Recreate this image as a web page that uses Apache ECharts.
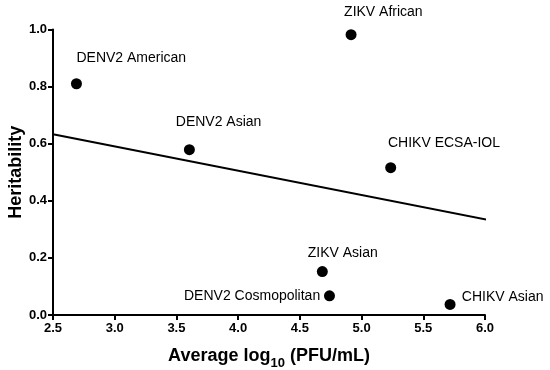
<!DOCTYPE html>
<html>
<head>
<meta charset="utf-8">
<script src="https://cdn.jsdelivr.net/npm/echarts@6/dist/echarts.min.js"></script>
<style>html,body{margin:0;padding:0;background:#fff}#c{width:550px;height:370px}</style>
</head>
<body>
<div id="c"></div>
<script>
// Data
const strains = ["DENV2 American", "ZIKV African", "DENV2 Asian", "CHIKV ECSA-IOL", "ZIKV Asian", "DENV2 Cosmopolitan", "CHIKV Asian"];
const avgLogPFU = [2.69, 4.915, 3.605, 5.236, 4.682, 4.74, 5.717];
const heritability = [0.81, 0.982, 0.579, 0.516, 0.152, 0.067, 0.037];
const regressionX = [2.5, 6.1];
const regressionY = [0.633, 0.327];
const xTicks = [2.5, 3.0, 3.5, 4.0, 4.5, 5.0, 5.5, 6.0];
const yTicks = [0.0, 0.2, 0.4, 0.6, 0.8, 1.0];

// Label placement (style, not data)
const labelPlacement = [
  {align: 'left', offset: [0, -26]},
  {align: 'left', offset: [-7, -22.5]},
  {align: 'left', offset: [-13.6, -27.6]},
  {align: 'left', offset: [-2.7, -25]},
  {align: 'left', offset: [-14.6, -18.4]},
  {align: 'right', offset: [-9.3, 0.5]},
  {align: 'left', offset: [11.7, -7.6]}
];

const FONT = '"Liberation Sans", Arial, Helvetica, sans-serif';

const scatterData = strains.map((n, i) => ({
  name: n,
  value: [avgLogPFU[i], heritability[i]],
  label: {
    show: true,
    position: 'inside',
    align: labelPlacement[i].align,
    verticalAlign: 'middle',
    offset: labelPlacement[i].offset,
    formatter: n,
    color: '#000',
    fontSize: 14,
    fontFamily: FONT
  }
}));

const chart = echarts.init(document.getElementById('c'));
chart.setOption({
  animation: false,
  backgroundColor: '#fff',
  grid: {left: 53, right: 65, top: 29.5, bottom: 55, containLabel: false, outerBoundsMode: 'none'},
  xAxis: {
    type: 'value',
    min: xTicks[0], max: xTicks[xTicks.length - 1], interval: 0.5,
    splitLine: {show: false},
    axisLine: {lineStyle: {color: '#000', width: 2}},
    axisTick: {length: 5, lineStyle: {color: '#000', width: 2}},
    axisLabel: {margin: 7, color: '#000', fontSize: 13, fontWeight: 'bold', fontFamily: FONT,
      formatter: v => v.toFixed(1)},
    name: '{a|Average log}{s|10}{a| (PFU/mL)}',
    nameLocation: 'middle',
    nameGap: 28,
    nameTextStyle: {
      rich: {
        a: {fontSize: 18, fontWeight: 'bold', fontFamily: FONT, color: '#000', verticalAlign: 'bottom', lineHeight: 22},
        s: {fontSize: 13, fontWeight: 'bold', fontFamily: FONT, color: '#000', verticalAlign: 'bottom', lineHeight: 22, padding: [0, 0, -5, 0]}
      }
    }
  },
  yAxis: {
    type: 'value',
    min: yTicks[0], max: yTicks[yTicks.length - 1], interval: 0.2,
    splitLine: {show: false},
    axisLine: {show: true, lineStyle: {color: '#000', width: 2}},
    axisTick: {show: true, length: 5, lineStyle: {color: '#000', width: 2}},
    axisLabel: {margin: 6, color: '#000', fontSize: 13, fontWeight: 'bold', fontFamily: FONT,
      formatter: v => v.toFixed(1)},
    name: 'Heritability',
    nameLocation: 'middle',
    nameGap: 28,
    nameMoveOverlap: false,
    nameTextStyle: {fontSize: 18, fontWeight: 'bold', fontFamily: FONT, color: '#000'}
  },
  series: [
    {
      type: 'line',
      data: regressionX.map((x, i) => [x, regressionY[i]]),
      symbol: 'none',
      clip: false,
      lineStyle: {color: '#000', width: 2},
      silent: true,
      z: 1
    },
    {
      type: 'scatter',
      data: scatterData,
      symbol: 'circle',
      symbolSize: 11,
      clip: false,
      itemStyle: {color: '#000', opacity: 1},
      z: 2
    }
  ]
});
</script>
</body>
</html>
